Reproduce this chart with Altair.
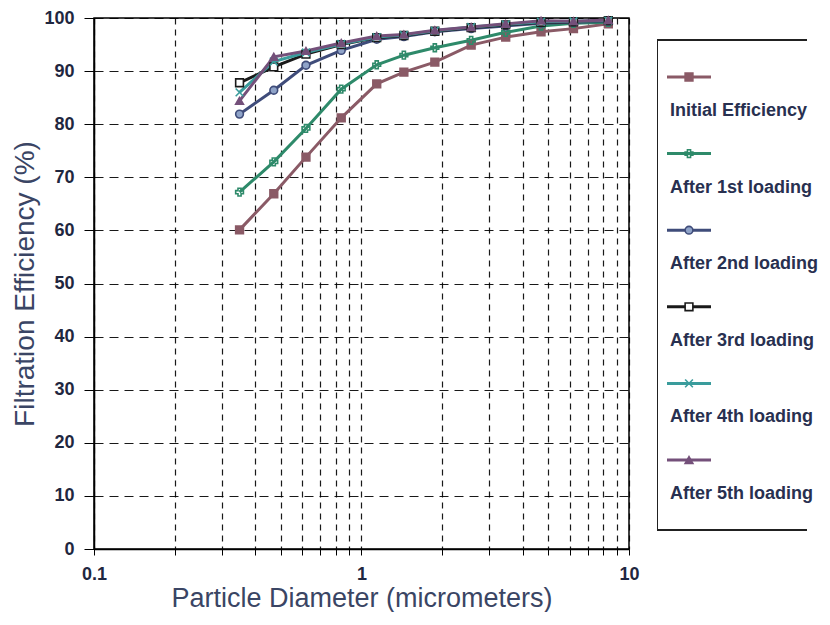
import altair as alt
import pandas as pd

diam = [0.35, 0.47, 0.62, 0.84, 1.14, 1.44, 1.88, 2.57, 3.46, 4.69, 6.2, 8.37]
initial = [60.1, 66.9, 73.8, 81.2, 87.6, 89.8, 91.7, 94.9, 96.4, 97.4, 98.0, 98.9]
load1 = [67.2, 72.9, 79.2, 86.6, 91.2, 93.0, 94.4, 95.8, 97.3, 98.5, 99.0, 99.2]
load2 = [81.9, 86.4, 91.1, 93.9, 96.0, 96.5, 97.4, 98.0, 98.5, 99.0, 99.2, 99.4]
load3 = [87.8, 90.8, 93.2, 95.0, 96.3, 96.7, 97.5, 98.2, 98.7, 99.2, 99.3, 99.5]
load4 = [86.0, 91.8, 93.5, 95.1, 96.4, 96.8, 97.6, 98.3, 98.8, 99.3, 99.4, 99.5]
load5 = [84.4, 92.7, 93.8, 95.3, 96.6, 96.9, 97.7, 98.3, 98.9, 99.5, 99.4, 99.6]

series_names = ["Initial Efficiency", "After 1st loading", "After 2nd loading",
                "After 3rd loading", "After 4th loading", "After 5th loading"]
series_vals = [initial, load1, load2, load3, load4, load5]
line_colors = ["#8a5a66", "#2e8a6a", "#3f4c7a", "#1a1a1a", "#3a9c9c", "#74507a"]
fill_colors = ["#8a5a66", "transparent", "#8fa3c8", "#ffffff", "transparent", "#74507a"]
shapes = ["square", "cross", "circle", "square", "M-1,-1L1,1M-1,1L1,-1", "triangle-up"]

x_ticks = [0.1, 0.2, 0.3, 0.4, 0.5, 0.6, 0.7, 0.8, 0.9, 1, 2, 3, 4, 5, 6, 7, 8, 9, 10]
y_ticks = [0, 10, 20, 30, 40, 50, 60, 70, 80, 90, 100]

rows = []
for i, (name, vals) in enumerate(zip(series_names, series_vals)):
    for d, v in zip(diam, vals):
        rows.append({"series": name, "order": i, "d": d, "eff": v})
df = pd.DataFrame(rows)

FONT = "Liberation Sans"
LABEL_COLOR = "#1f2740"
TITLE_COLOR = "#3a4564"
stroke_scale = alt.Scale(domain=series_names, range=line_colors)
fill_scale = alt.Scale(domain=series_names, range=fill_colors)
shape_scale = alt.Scale(domain=series_names, range=shapes)

x_enc = alt.X("d:Q", scale=alt.Scale(type="log", domain=[0.1, 10], nice=False),
              axis=alt.Axis(values=x_ticks,
                            labelExpr="(abs(datum.value-0.1)<1e-6 || datum.value==1 || datum.value==10) ? format(datum.value, '~g') : ''",
                            title="Particle Diameter (micrometers)",
                            grid=True, gridDash=[6, 5], gridColor="#000000", gridOpacity=0.9,
                            gridWidth=1.2,
                            tickColor="#000000", tickSize=6, labelPadding=10,
                            labelFontSize=18, labelFont=FONT, labelColor=LABEL_COLOR,
                            labelFontWeight="bold",
                            titleFontSize=27, titleFont=FONT, titleColor=TITLE_COLOR,
                            titleFontWeight="normal", titlePadding=2,
                            domainColor="#000000", domainWidth=1.5, labelFlush=False))
y_enc = alt.Y("eff:Q", scale=alt.Scale(domain=[0, 100], nice=False),
              axis=alt.Axis(values=y_ticks, title="Filtration Efficiency (%)",
                            grid=True, gridDash=[9, 6], gridColor="#000000", gridOpacity=0.9,
                            gridWidth=1.2,
                            tickColor="#000000", tickSize=10, labelPadding=10,
                            labelFontSize=18, labelFont=FONT, labelColor=LABEL_COLOR,
                            labelFontWeight="bold",
                            titleFontSize=28, titleFont=FONT, titleColor=TITLE_COLOR,
                            titleFontWeight="normal", titlePadding=4,
                            domainColor="#000000", domainWidth=1.5))

base = alt.Chart(df)
lines = base.mark_line(strokeWidth=3).encode(
    x=x_enc, y=y_enc,
    stroke=alt.Stroke("series:N", scale=stroke_scale, legend=None),
    detail="series:N", order="d:Q")
points = base.mark_point(filled=False, size=60, strokeWidth=1.6, opacity=1).encode(
    x="d:Q", y="eff:Q",
    stroke=alt.Stroke("series:N", scale=stroke_scale, legend=None),
    fill=alt.Fill("series:N", scale=fill_scale, legend=None),
    shape=alt.Shape("series:N", scale=shape_scale, legend=None),
    order="order:Q")
main = alt.layer(lines, points).properties(
    width=535, height=531,
    view=alt.ViewBackground(stroke="#000000", strokeWidth=1.5))

# custom legend panel (symbol drawn above its label)
leg_rows = []
for i, name in enumerate(series_names):
    leg_rows.append({"series": name, "ysym": 59 + 76.6 * i, "ylab": 93 + 76.6 * i})
leg_df = pd.DataFrame(leg_rows)
lbase = alt.Chart(leg_df)
box = lbase.mark_rect(fill="transparent", stroke="#222222", strokeWidth=1.5, clip=True).encode(
    x=alt.value(0), x2=alt.value(200), y=alt.value(22), y2=alt.value(512))
lrule = lbase.mark_rule(strokeWidth=3).encode(
    x=alt.value(10), x2=alt.value(54), y=alt.Y("ysym:Q", scale=None, axis=None),
    stroke=alt.Stroke("series:N", scale=stroke_scale, legend=None))
lpt = lbase.mark_point(filled=False, size=60, strokeWidth=1.6, opacity=1).encode(
    x=alt.value(32), y=alt.Y("ysym:Q", scale=None, axis=None),
    stroke=alt.Stroke("series:N", scale=stroke_scale, legend=None),
    fill=alt.Fill("series:N", scale=fill_scale, legend=None),
    shape=alt.Shape("series:N", scale=shape_scale, legend=None))
ltext = lbase.mark_text(align="left", baseline="middle", fontSize=18, font=FONT,
                        fontWeight="bold", color="#283050").encode(
    x=alt.value(13), y=alt.Y("ylab:Q", scale=None, axis=None), text="series:N")
legend_panel = alt.layer(box, lrule, lpt, ltext).properties(
    width=150, height=531, view=alt.ViewBackground(stroke=None))

chart = alt.hconcat(main, legend_panel, spacing=28, bounds="flush").properties(
    padding={"top": 0, "left": 3, "right": 0, "bottom": 0}
).configure(background="#ffffff")
chart.save("out.html", embed_options={"renderer": "svg", "actions": False})
